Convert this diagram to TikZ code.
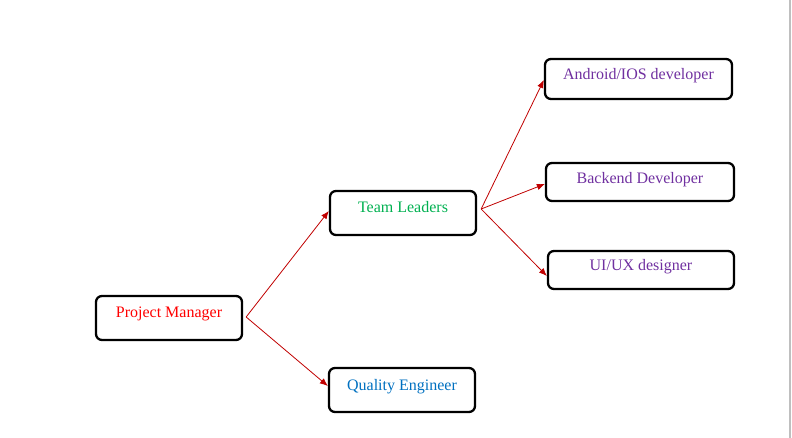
\documentclass[tikz,border=0pt]{standalone}
\usepackage{fontspec}
\setmainfont{Liberation Serif}
\usetikzlibrary{arrows.meta}
\definecolor{pmred}{HTML}{FF0000}
\definecolor{tlgreen}{HTML}{00B050}
\definecolor{devpurple}{HTML}{7030A0}
\definecolor{qeblue}{HTML}{0070C0}
\definecolor{linkred}{HTML}{C00000}
\tikzset{
    rolebox/.style={draw,line width=2.3pt,rounded corners=6pt,anchor=center,
        font=\fontsize{16}{18}\selectfont,inner sep=0pt},
    link/.style={linkred,line width=0.8pt,-{Latex[length=8pt,width=6.5pt]}}
}
\begin{document}
\begin{tikzpicture}[x=1pt,y=-1pt]
        \useasboundingbox (0,0) rectangle (792,438);
        \draw[gray!50,line width=1.2pt] (790,0) -- (790,438);
        %% Roles
        \node[rolebox,minimum width=146pt,minimum height=44pt,text=pmred,text depth=12pt] (pm) at (169,318) {Project Manager};
        \node[rolebox,minimum width=146pt,minimum height=44pt,text=tlgreen,text depth=12pt] (tl) at (403,213) {Team Leaders};
        \node[rolebox,minimum width=146pt,minimum height=44pt,text=qeblue,text depth=10pt] (qe) at (402,390) {Quality Engineer};
        %% Developers
        \node[rolebox,minimum width=187pt,minimum height=40pt,text=devpurple,text depth=10pt] (app) at (638.5,79) {Android/IOS developer};
        \node[rolebox,minimum width=188pt,minimum height=38pt,text=devpurple,text depth=8pt] (be) at (640,182) {Backend Developer};
        \node[rolebox,minimum width=186pt,minimum height=38pt,text=devpurple,text depth=10pt] (ux) at (641,270) {UI/UX designer};
        %% Links
        \coordinate (pmout) at ([xshift=3pt,yshift=1pt]pm.east);
        \coordinate (tlout) at ([xshift=4pt,yshift=4pt]tl.east);
        \draw[link] (pmout) -- ([yshift=2pt]tl.west);
        \draw[link] (pmout) -- ([yshift=4pt]qe.west);
        \draw[link] (tlout) -- ([yshift=-1pt]app.west);
        \draw[link] (tlout) -- ([yshift=-2pt]be.west);
        \draw[link] (tlout) -- ([yshift=-6pt]ux.west);
\end{tikzpicture}
\end{document}
